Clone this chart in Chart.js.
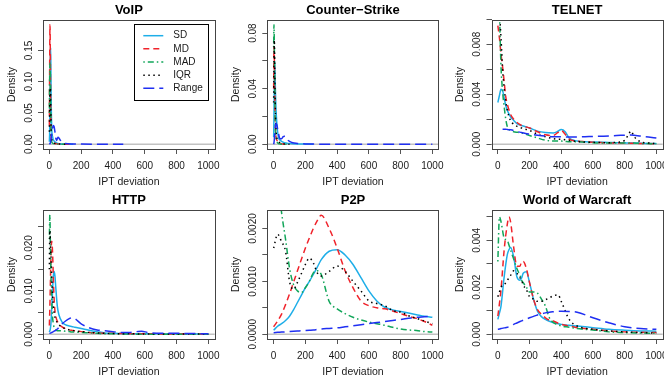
<!DOCTYPE html>
<html>
<head>
<meta charset="utf-8">
<script src="https://cdn.jsdelivr.net/npm/chart.js@4/dist/chart.umd.min.js"></script>
<style>
  body { margin: 0; background: #fff; width: 664px; height: 381px; position: relative; overflow: hidden; }
  canvas { position: absolute; }
</style>
</head>
<body>
<canvas id="c0" width="226" height="190" style="left:0;top:0"></canvas>
<canvas id="c1" width="226" height="190" style="left:221px;top:0"></canvas>
<canvas id="c2" width="222" height="190" style="left:442px;top:0"></canvas>
<canvas id="c3" width="226" height="190" style="left:0;top:190px"></canvas>
<canvas id="c4" width="226" height="190" style="left:221px;top:190px"></canvas>
<canvas id="c5" width="222" height="190" style="left:442px;top:190px"></canvas>
<script>
// ---- data ----
const seriesNames = ['SD', 'MD', 'MAD', 'IQR', 'Range'];
const xTicks = [0, 200, 400, 600, 800, 1000];

// VoIP
const voipX     = [0, 2, 4, 6, 8, 10, 12, 15, 20, 25, 30, 35, 40, 45, 50, 55, 60, 70, 80, 100, 150, 200, 300, 400, 465];
const voipSD    = [0.004, 0.02, 0.07, 0.13, 0.155, 0.11, 0.06, 0.025, 0.012, 0.007, 0.005, 0.004, 0.003, 0.002, 0.0015, 0.001, 0.0008, 0.0005, 0.0003, 0.0001, 0, null, null, null, null];
const voipMD    = [0.03, 0.13, 0.191, 0.15, 0.07, 0.025, 0.01, 0.005, 0.003, 0.002, 0.0015, 0.001, 0.001, 0.0008, 0.0006, 0.0005, 0.0004, 0.0003, 0.0002, 0.0001, 0, null, null, null, null];
const voipMAD   = [0.05, 0.11, 0.13, 0.11, 0.06, 0.025, 0.01, 0.004, 0.002, 0.001, 0.0008, 0.0006, 0.0005, 0.0004, 0.0003, 0.0002, 0.0001, 0, 0, 0, null, null, null, null, null];
const voipIQR   = [0.02, 0.06, 0.085, 0.09, 0.07, 0.04, 0.02, 0.008, 0.004, 0.002, 0.0015, 0.001, 0.0008, 0.0006, 0.0005, 0.0004, 0.0003, 0.0002, 0.0001, 0, null, null, null, null, null];
const voipRange = [0, 0.0005, 0.001, 0.002, 0.004, 0.008, 0.012, 0.018, 0.026, 0.03, 0.028, 0.02, 0.01, 0.006, 0.009, 0.011, 0.01, 0.006, 0.003, 0.0012, 0.0004, 0.0002, 0.0001, 0.00005, 0];
const voipPeak = 0.191;
const voipYTicks = [0, 0.05, 0.10, 0.15];
const voipYLabels = ['0.00', '0.05', '0.10', '0.15'];

// Counter-Strike
const csX     = [0, 2, 4, 6, 8, 10, 12, 15, 20, 25, 30, 40, 50, 60, 70, 80, 90, 100, 120, 150, 200, 250, 300, 400, 500, 600, 700, 800, 900, 1000];
const csSD    = [0.005, 0.02, 0.045, 0.06, 0.055, 0.045, 0.035, 0.025, 0.015, 0.009, 0.005, 0.003, 0.002, 0.0015, 0.001, 0.0008, 0.0006, 0.0005, 0.0003, 0.0002, 0.0001, 0, null, null, null, null, null, null, null, null];
const csMD    = [0.04, 0.07, 0.065, 0.045, 0.03, 0.018, 0.01, 0.005, 0.003, 0.002, 0.001, 0.0005, 0.0003, 0.0001, 0, null, null, null, null, null, null, null, null, null, null, null, null, null, null, null];
const csMAD   = [0.07, 0.086, 0.075, 0.05, 0.03, 0.015, 0.008, 0.004, 0.002, 0.001, 0.0005, 0.0002, 0, 0, 0, 0, 0, 0, null, null, null, null, null, null, null, null, null, null, null, null];
const csIQR   = [0.03, 0.06, 0.075, 0.065, 0.045, 0.03, 0.02, 0.01, 0.005, 0.003, 0.002, 0.001, 0.0005, 0.0003, 0.0002, 0.0001, 0, 0, null, null, null, null, null, null, null, null, null, null, null, null];
const csRange = [0, 0.001, 0.003, 0.006, 0.009, 0.012, 0.014, 0.015, 0.014, 0.011, 0.008, 0.004, 0.004, 0.0055, 0.0058, 0.005, 0.003, 0.002, 0.001, 0.0006, 0.0002, 0.0001, 0.00005, 0, 0, 0, 0, 0, 0, 0];
const csPeak = 0.086;
const csYTicks = [0, 0.02, 0.04, 0.06, 0.08];
const csYLabels = ['0.00', '', '0.04', '', '0.08'];

// TELNET
const telX     = [0, 10, 20, 30, 40, 50, 60, 80, 100, 125, 150, 175, 200, 250, 300, 350, 375, 400, 425, 450, 500, 550, 600, 650, 700, 750, 800, 825, 840, 860, 900, 950, 1000];
const telSD    = [0.00334, 0.0039, 0.0044, 0.0043, 0.0037, 0.0031, 0.0027, 0.0022, 0.0019, 0.0016, 0.0015, 0.0014, 0.0013, 0.00105, 0.00093, 0.0009, 0.001, 0.00118, 0.001, 0.0005, 0.00026, 0.0002, 0.00018, 0.00016, 0.00014, 0.00012, 0.00011, 0.0001, 0.0001, 0.0001, 0.00008, 0.00006, 0.00005];
const telMD    = [0.0095, 0.0085, 0.0072, 0.0062, 0.005, 0.0038, 0.0032, 0.0024, 0.002, 0.0017, 0.0015, 0.0014, 0.0013, 0.001, 0.00075, 0.0007, 0.0009, 0.0011, 0.0008, 0.0004, 0.00025, 0.0002, 0.00016, 0.00013, 0.0001, 0.0001, 0.00008, 0.00008, 0.00008, 0.00007, 0.00006, 0.00005, 0.00004];
const telMAD   = [0.013, 0.0105, 0.0062, 0.0042, 0.003, 0.002, 0.0014, 0.0011, 0.001, 0.00095, 0.0009, 0.0008, 0.0007, 0.0005, 0.00032, 0.00025, 0.00025, 0.00025, 0.00023, 0.0002, 0.0002, 0.00016, 0.00012, 0.0001, 0.0001, 0.0001, 0.0001, 0.0001, 0.0001, 0.00009, 0.00007, 0.00005, 0.00003];
const telIQR   = [0.012, 0.0105, 0.0085, 0.006, 0.0045, 0.0034, 0.0027, 0.0019, 0.0016, 0.0014, 0.0013, 0.0012, 0.0011, 0.0008, 0.0006, 0.00045, 0.0004, 0.0004, 0.00035, 0.0003, 0.00022, 0.00018, 0.00015, 0.00013, 0.00012, 0.00015, 0.0003, 0.0008, 0.00105, 0.0006, 0.0002, 0.0001, 0.00005];
const telRange = [null, null, null, 0.0012, 0.0012, 0.0012, 0.00118, 0.00115, 0.0011, 0.001, 0.00094, 0.00085, 0.0008, 0.00072, 0.00065, 0.0006, 0.00059, 0.00059, 0.00058, 0.00058, 0.00058, 0.0006, 0.00062, 0.00064, 0.00066, 0.0007, 0.00072, 0.00074, 0.00074, 0.00072, 0.00065, 0.00058, 0.0005];
const telPeak = 0.00956;
const telYTicks = [0, 0.002, 0.004, 0.006, 0.008, 0.010];
const telYLabels = ['0.000', '', '0.004', '', '0.008', ''];

// HTTP
const httpX     = [0, 3, 6, 10, 15, 20, 25, 30, 35, 40, 50, 60, 80, 100, 125, 140, 160, 200, 250, 300, 350, 400, 450, 500, 550, 580, 620, 700, 800, 900, 1000];
const httpSD    = [0.0005, 0.0008, 0.0012, 0.0025, 0.006, 0.01, 0.0135, 0.0145, 0.0135, 0.011, 0.0065, 0.0045, 0.0028, 0.0022, 0.0019, 0.0018, 0.0016, 0.0013, 0.0009, 0.0006, 0.0003, 0.0002, 0.00015, 0.00012, 0.0001, 0.0001, 0.0001, 0.00008, 0.00006, 0.00005, 0.00004];
const httpMD    = [0.002, 0.006, 0.011, 0.018, 0.0215, 0.019, 0.013, 0.008, 0.0055, 0.0042, 0.003, 0.0024, 0.0017, 0.0013, 0.001, 0.0009, 0.0008, 0.0006, 0.0004, 0.0003, 0.0002, 0.0002, 0.00015, 0.00012, 0.0001, 0.0001, 0.0001, 0.00008, 0.00006, 0.00004, 0.00003];
const httpMAD   = [0.022, 0.0276, 0.022, 0.014, 0.008, 0.004, 0.0025, 0.0015, 0.0012, 0.001, 0.0008, 0.0008, 0.0008, 0.0007, 0.0006, 0.0005, 0.0005, 0.0004, 0.0003, 0.0002, 0.0001, 0.0001, 0.00005, 0.00003, 0, 0, 0, 0, 0, 0, 0];
const httpIQR   = [0.015, 0.024, 0.022, 0.018, 0.013, 0.009, 0.0065, 0.005, 0.004, 0.0034, 0.0027, 0.0022, 0.0016, 0.0013, 0.001, 0.0009, 0.0008, 0.0006, 0.0004, 0.0003, 0.0002, 0.00015, 0.0001, 0.0001, 0.00008, 0.00007, 0.00006, 0.00005, 0.00004, 0.00003, 0.00002];
const httpRange = [0.0002, 0.0002, 0.0003, 0.0003, 0.0004, 0.0005, 0.0006, 0.0007, 0.0008, 0.0009, 0.0012, 0.0016, 0.0024, 0.003, 0.0036, 0.0038, 0.0036, 0.0024, 0.0015, 0.001, 0.0008, 0.0006, 0.0004, 0.0004, 0.0006, 0.0007, 0.0004, 0.0002, 0.0002, 0.00015, 0.0001];
const httpPeak = 0.0276;
const httpYTicks = [0, 0.005, 0.010, 0.015, 0.020, 0.025];
const httpYLabels = ['0.000', '', '0.010', '', '0.020', ''];

// P2P
const p2pX     = [0, 25, 50, 75, 100, 125, 150, 175, 200, 225, 250, 275, 300, 350, 400, 450, 500, 550, 600, 650, 700, 750, 800, 850, 900, 950, 1000];
const p2pSD    = [0.000075, 0.00015, 0.0002, 0.00026, 0.00034, 0.00046, 0.0006, 0.00074, 0.00088, 0.001, 0.00113, 0.00127, 0.00141, 0.00157, 0.0016, 0.0015, 0.00132, 0.00107, 0.00082, 0.00063, 0.00051, 0.00046, 0.00043, 0.0004, 0.00037, 0.00034, 0.00032];
const p2pMD    = [0.00014, 0.00025, 0.00038, 0.00056, 0.00076, 0.00098, 0.0012, 0.00142, 0.00163, 0.00182, 0.002, 0.00215, 0.00225, 0.002, 0.00163, 0.0012, 0.00088, 0.00063, 0.00054, 0.0005, 0.00048, 0.00044, 0.00039, 0.00034, 0.0003, 0.00024, 0.00017];
const p2pMAD   = [0.004, 0.003, 0.0023, 0.0018, 0.00125, 0.00094, 0.00082, 0.00079, 0.00088, 0.001, 0.00116, 0.0012, 0.00113, 0.00062, 0.00048, 0.00039, 0.00032, 0.00027, 0.00023, 0.0002, 0.00017, 0.00013, 0.0001, 0.00008, 0.00007, 0.00005, 0.00004];
const p2pIQR   = [0.00163, 0.00189, 0.00175, 0.00157, 0.001, 0.00085, 0.00098, 0.00115, 0.00132, 0.00144, 0.00135, 0.00116, 0.0011, 0.00119, 0.00129, 0.00119, 0.001, 0.00082, 0.00063, 0.00058, 0.00054, 0.00045, 0.00042, 0.00035, 0.0003, 0.00025, 0.0002];
const p2pRange = [0.00003, 0.000035, 0.00004, 0.000045, 0.00005, 0.000055, 0.00006, 0.000065, 0.00007, 0.000075, 0.00008, 0.00009, 0.0001, 0.00011, 0.00012, 0.00014, 0.00016, 0.00018, 0.0002, 0.00022, 0.00024, 0.00026, 0.00028, 0.0003, 0.00032, 0.00033, 0.00034];
const p2pPeak = 0.00226;
const p2pYTicks = [0, 0.0005, 0.0010, 0.0015, 0.0020];
const p2pYLabels = ['0.0000', '', '0.0010', '', '0.0020'];

// World of Warcraft
const wowX     = [0, 10, 20, 40, 60, 70, 80, 100, 120, 140, 150, 160, 180, 200, 225, 250, 275, 300, 325, 350, 380, 400, 450, 500, 600, 700, 800, 900, 1000];
const wowSD    = [0.00063, 0.0009, 0.0012, 0.00245, 0.0034, 0.0036, 0.0037, 0.0033, 0.00245, 0.0023, 0.0024, 0.0026, 0.00266, 0.0022, 0.0015, 0.00098, 0.00075, 0.00063, 0.00055, 0.00049, 0.00045, 0.00042, 0.00038, 0.00035, 0.00028, 0.00021, 0.00017, 0.00014, 0.00013];
const wowMD    = [0.00077, 0.0013, 0.0019, 0.0036, 0.0047, 0.005, 0.0048, 0.0037, 0.0029, 0.0029, 0.0031, 0.0031, 0.0028, 0.0022, 0.0015, 0.00105, 0.00085, 0.0007, 0.0006, 0.00056, 0.00047, 0.00042, 0.00035, 0.00028, 0.00021, 0.00014, 0.0001, 0.00008, 0.00007];
const wowMAD   = [0.0031, 0.005, 0.0048, 0.0041, 0.004, 0.0038, 0.0036, 0.0032, 0.0028, 0.0025, 0.0023, 0.0022, 0.002, 0.0018, 0.0018, 0.00175, 0.0015, 0.0012, 0.0007, 0.0005, 0.0004, 0.00035, 0.0003, 0.00024, 0.00018, 0.0001, 0.00007, 0.00005, 0.00004];
const wowIQR   = [0.0016, 0.0018, 0.002, 0.0021, 0.0023, 0.0024, 0.0025, 0.0027, 0.0026, 0.0024, 0.0023, 0.0021, 0.0019, 0.0016, 0.0015, 0.0014, 0.0014, 0.00147, 0.00155, 0.00164, 0.00168, 0.0014, 0.00063, 0.00035, 0.00021, 0.00014, 0.0001, 0.00007, 0.00005];
const wowRange = [0.00021, 0.00022, 0.00024, 0.00027, 0.0003, 0.00032, 0.00035, 0.00042, 0.00048, 0.00054, 0.00057, 0.0006, 0.00065, 0.0007, 0.00076, 0.00082, 0.00087, 0.00091, 0.00094, 0.00096, 0.00098, 0.00098, 0.00097, 0.00094, 0.0007, 0.00049, 0.00032, 0.00024, 0.00021];
const wowPeak = 0.00509;
const wowYTicks = [0, 0.001, 0.002, 0.003, 0.004, 0.005];
const wowYLabels = ['0.000', '', '0.002', '', '0.004', ''];

// ---- look ----
const FONT = "'Liberation Sans', Arial, Helvetica, sans-serif";
const styles = [
  { color: '#1eaee8', dash: [] },
  { color: '#f0232b', dash: [6, 4] },
  { color: '#12a65a', dash: [1.5, 3, 6, 3] },
  { color: '#000000', dash: [1.5, 3.5] },
  { color: '#1f2ff2', dash: [11, 5] }
];
// canvases overlap a little so the "1000" labels are not cut
const cols = [
  { padLeft: 0, padRight: 11.3 },
  { padLeft: 3.3, padRight: 8.3 },
  { padLeft: 6.5, padRight: 1.3 }
];

Chart.defaults.font.family = FONT;
Chart.defaults.color = '#1a1a1a';

// R-like frame: zero line, box, rotated y labels, legend
function rFrame(yLabels, legend) {
  return {
    id: 'rframe',
    beforeDatasetsDraw(chart) {
      const { ctx, chartArea: a, scales: { y } } = chart;
      const y0 = y.getPixelForValue(0);
      ctx.save();
      ctx.strokeStyle = '#c2c2c2';
      ctx.lineWidth = 1.5;
      ctx.beginPath(); ctx.moveTo(a.left, y0); ctx.lineTo(a.right, y0); ctx.stroke();
      ctx.restore();
    },
    afterDraw(chart) {
      const { ctx, chartArea: a, scales: { y } } = chart;
      ctx.save();
      ctx.strokeStyle = '#444';
      ctx.lineWidth = 1;
      ctx.strokeRect(Math.round(a.left) + 0.5, Math.round(a.top) + 0.5,
                     Math.round(a.right - a.left), Math.round(a.bottom - a.top));
      ctx.fillStyle = '#1a1a1a';
      ctx.font = '10px ' + FONT;
      ctx.textAlign = 'center';
      ctx.textBaseline = 'middle';
      y.ticks.forEach((t, i) => {
        if (!yLabels[i]) return;
        ctx.save();
        ctx.translate(a.left - 14, y.getPixelForValue(t.value));
        ctx.rotate(-Math.PI / 2);
        ctx.fillText(yLabels[i], 0, 0);
        ctx.restore();
      });
      if (legend) {
        const lx = a.right - 6.4 - 74, ly = a.top + 4;
        ctx.strokeStyle = '#000';
        ctx.strokeRect(Math.round(lx) + 0.5, Math.round(ly) + 0.5, 74, 76);
        chart.data.datasets.forEach((ds, i) => {
          const yy = ly + 11.7 + i * 13.15;
          ctx.save();
          ctx.strokeStyle = ds.borderColor;
          ctx.lineWidth = ds.borderWidth;
          ctx.setLineDash(ds.borderDash);
          ctx.beginPath(); ctx.moveTo(lx + 9, yy); ctx.lineTo(lx + 29, yy); ctx.stroke();
          ctx.restore();
          ctx.textAlign = 'left';
          ctx.fillText(ds.label, lx + 39, yy);
        });
      }
      ctx.restore();
    }
  };
}

function panel(id, col, title, xs, ys, peak, yTicks, yLabels, legend) {
  const datasets = ys.map((vals, i) => ({
    label: seriesNames[i],
    data: xs.map((x, j) => ({ x: x, y: vals[j] })).filter(p => p.y !== null),
    borderColor: styles[i].color,
    borderDash: styles[i].dash,
    borderWidth: 1.5,
    pointRadius: 0,
    fill: false,
    cubicInterpolationMode: 'monotone',
    order: 5 - i
  }));
  new Chart(document.getElementById(id), {
    type: 'line',
    data: { datasets: datasets },
    plugins: [rFrame(yLabels, legend)],
    options: {
      responsive: false,
      animation: false,
      events: [],
      layout: { padding: { left: cols[col].padLeft, right: cols[col].padRight, top: 0, bottom: 0 } },
      plugins: {
        legend: { display: false },
        tooltip: { enabled: false },
        title: {
          display: true, text: title, fullSize: false, color: '#000',
          font: { size: 13, weight: 'bold', family: FONT },
          padding: { top: 3, bottom: 1.4 }
        }
      },
      scales: {
        x: {
          type: 'linear', min: -40, max: 1040,
          afterBuildTicks: s => { s.ticks = xTicks.map(v => ({ value: v })); },
          afterFit: s => { s.height = 41; s.paddingLeft = 0; s.paddingRight = 0; },
          grid: { drawOnChartArea: false, drawTicks: true, tickLength: 5, color: '#555' },
          border: { display: false },
          ticks: { font: { size: 10 }, padding: 6.5, maxRotation: 0, autoSkip: false, callback: v => String(v) },
          title: { display: true, text: 'IPT deviation', font: { size: 10.5 }, padding: { top: 0, bottom: 1.7 } }
        },
        y: {
          type: 'linear', min: -0.04 * peak, max: 1.04 * peak,
          afterBuildTicks: s => { s.ticks = yTicks.map(v => ({ value: v })); },
          afterFit: s => { s.width = 43; s.paddingTop = 0; s.paddingBottom = 0; },
          grid: { drawOnChartArea: false, drawTicks: true, tickLength: 5, color: '#555' },
          border: { display: false },
          ticks: { display: false },
          title: { display: true, text: 'Density', font: { size: 10.5 }, padding: { top: 5.7, bottom: 0 } }
        }
      }
    }
  });
}

panel('c0', 0, 'VoIP', voipX, [voipSD, voipMD, voipMAD, voipIQR, voipRange], voipPeak, voipYTicks, voipYLabels, true);
panel('c1', 1, 'Counter\u2212Strike', csX, [csSD, csMD, csMAD, csIQR, csRange], csPeak, csYTicks, csYLabels, false);
panel('c2', 2, 'TELNET', telX, [telSD, telMD, telMAD, telIQR, telRange], telPeak, telYTicks, telYLabels, false);
panel('c3', 0, 'HTTP', httpX, [httpSD, httpMD, httpMAD, httpIQR, httpRange], httpPeak, httpYTicks, httpYLabels, false);
panel('c4', 1, 'P2P', p2pX, [p2pSD, p2pMD, p2pMAD, p2pIQR, p2pRange], p2pPeak, p2pYTicks, p2pYLabels, false);
panel('c5', 2, 'World of Warcraft', wowX, [wowSD, wowMD, wowMAD, wowIQR, wowRange], wowPeak, wowYTicks, wowYLabels, false);
</script>
</body>
</html>
